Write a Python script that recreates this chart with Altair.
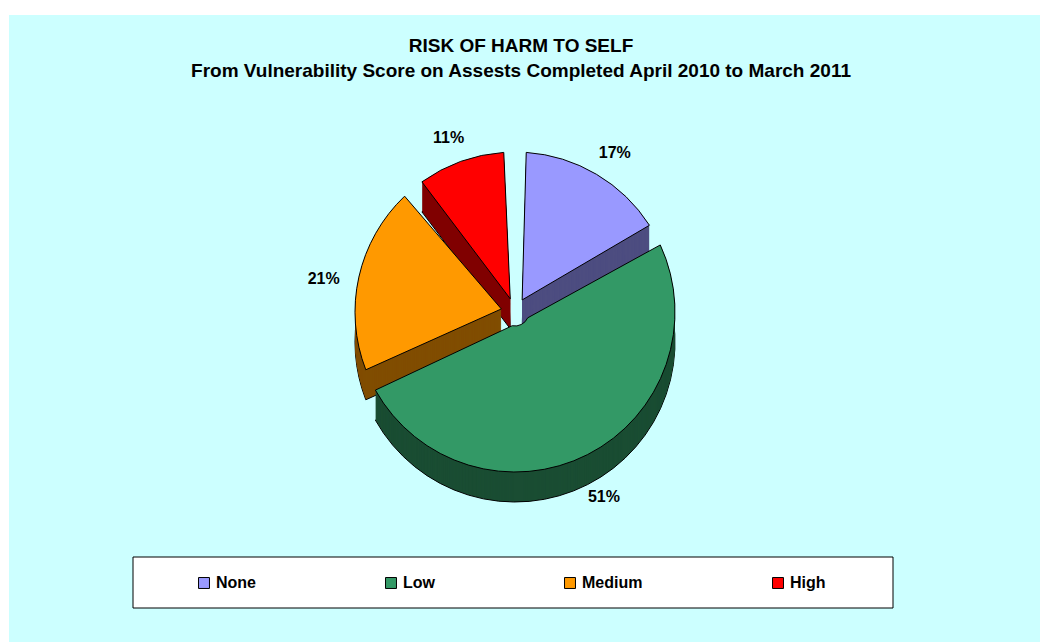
import altair as alt
import pandas as pd

categories = ["None", "Low", "Medium", "High"]
values = [17, 51, 21, 11]
labels = ["17%", "51%", "21%", "11%"]
top_colors = ["#9999FF", "#339966", "#FF9900", "#FF0000"]
side_colors = ["#4D4D80", "#1A4D33", "#804D00", "#800000"]

title_line1 = "RISK OF HARM TO SELF"
title_line2 = "From Vulnerability Score on Assests Completed April 2010 to March 2011"

df = pd.DataFrame({
    "cat": categories,
    "value": values,
    "label": labels,
    "idx": list(range(len(categories))),
    "side": side_colors,
})

W, H = 1040, 642
CX, CY = 515, 312
R = 160
DEPTH = 30
INNER = 14
PAD = 0.14
FONT = "Liberation Sans, Arial, sans-serif"

theta = alt.Theta("value:Q", stack=True)
order = alt.Order("idx:Q")

bg = alt.Chart(alt.Data(values=[{}])).mark_rect(color="#CCFFFF").encode(
    x=alt.value(9), x2=alt.value(W), y=alt.value(15), y2=alt.value(H)
)

legend_box = alt.Chart(alt.Data(values=[{}])).mark_rect(
    fill="white", stroke="black", strokeWidth=1
).encode(
    x=alt.value(133), x2=alt.value(893), y=alt.value(557), y2=alt.value(608)
)

layers = [bg, legend_box]

# extruded side (3D depth), drawn bottom-up
for z in range(DEPTH, 0, -1):
    stroke_kw = {"stroke": "black", "strokeWidth": 1} if z == DEPTH else {"strokeWidth": 0}
    layers.append(
        alt.Chart(df).mark_arc(innerRadius=INNER, outerRadius=R, padAngle=PAD, **stroke_kw).encode(
            theta=theta,
            order=order,
            fill=alt.Fill("side:N", scale=None),
            x=alt.value(CX),
            y=alt.value(CY + z),
        )
    )

top = alt.Chart(df).mark_arc(
    innerRadius=INNER, outerRadius=R, padAngle=PAD, stroke="black", strokeWidth=1
).encode(
    theta=theta,
    order=order,
    color=alt.Color(
        "cat:N",
        scale=alt.Scale(domain=categories, range=top_colors),
        legend=alt.Legend(
            title=None,
            orient="none",
            legendX=196,
            legendY=575,
            direction="horizontal",
            columnPadding=127,
            symbolType="square",
            symbolSize=120,
            symbolStrokeColor="black",
            symbolStrokeWidth=1,
            symbolOffset=0,
            labelFont=FONT,
            labelFontSize=16,
            labelFontWeight="bold",
            labelColor="black",
            labelOffset=4,
        ),
    ),
    x=alt.value(CX),
    y=alt.value(CY),
)
layers.append(top)

pct = alt.Chart(df).mark_text(
    font=FONT, fontSize=16, fontWeight="bold", color="black", radius=R + 36
).encode(
    theta=theta,
    order=order,
    text="label:N",
    x=alt.value(CX),
    y=alt.value(CY + 10),
)
layers.append(pct)

t1 = alt.Chart(alt.Data(values=[{}])).mark_text(
    font=FONT, fontSize=19, fontWeight="bold", color="black", align="center", baseline="alphabetic"
).encode(x=alt.value(521), y=alt.value(52), text=alt.value(title_line1))
t2 = alt.Chart(alt.Data(values=[{}])).mark_text(
    font=FONT, fontSize=19, fontWeight="bold", color="black", align="center", baseline="alphabetic"
).encode(x=alt.value(521), y=alt.value(77), text=alt.value(title_line2))
layers += [t1, t2]

chart = alt.layer(*layers).properties(
    width=W, height=H, background="white", padding=0,
    autosize=alt.AutoSizeParams(type="none"),
).configure_view(stroke=None)

chart.save("out.html", embed_options={"renderer": "svg", "actions": False})
